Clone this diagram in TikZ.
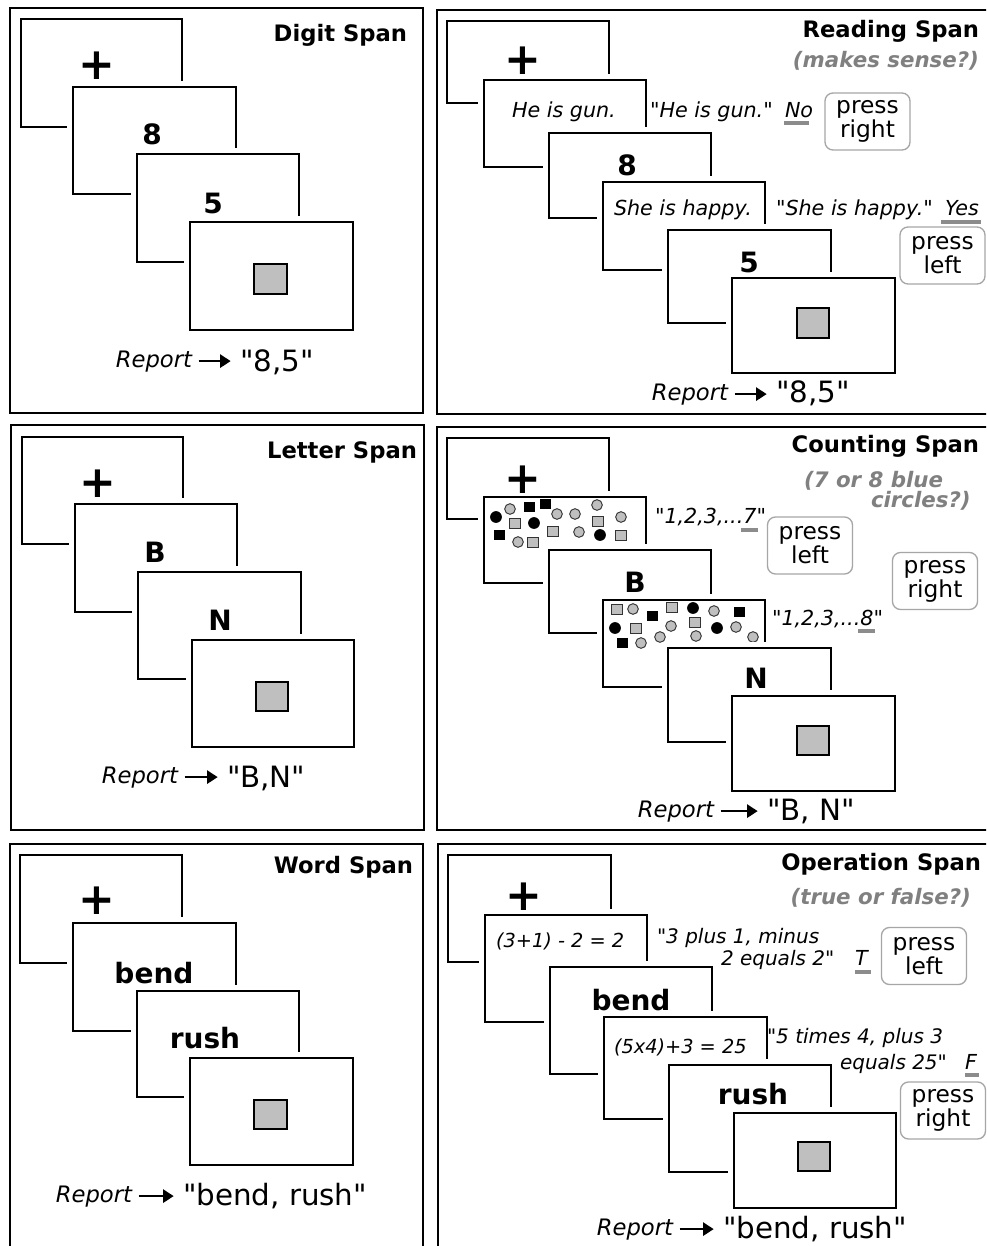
\documentclass[tikz,border=0pt]{standalone}
\usepackage{fontspec}
\newfontfamily\cfont{DejaVu Sans}[BoldFont={DejaVu Sans Bold},ItalicFont={DejaVu Sans Oblique},BoldItalicFont={DejaVu Sans Bold Oblique}]
\usetikzlibrary{arrows.meta,calc}
\newcommand\DotGC[2]{\draw[dotg] (#1,#2) circle[radius=4pt];}
\newcommand\DotBC[2]{\fill (#1,#2) circle[radius=4.4pt];}
\newcommand\DotGS[2]{\draw[dotg,shift={(#1,#2)}] (-5.5,-5) rectangle (5.5,5);}
\newcommand\DotBS[2]{\fill[shift={(#1,#2)}] (-5.5,-5) rectangle (5.5,5);}
\begin{document}
\begin{tikzpicture}[x=0.75pt,y=-0.75pt,
 every node/.style={inner sep=0pt,outer sep=0pt},
 panel/.style={draw=black,line width=2pt},
 screen/.style={draw=black,line width=2.2pt,fill=white,preaction={draw=white,line width=9pt}},
 graysq/.style={draw=black,line width=1.8pt,fill=gray!50},
 dotg/.style={draw=black!80,line width=0.7pt,fill=gray!50},
 ttl/.style={font=\cfont\fontsize{17}{20}\selectfont\bfseries,anchor=base east},
 sub/.style={font=\cfont\fontsize{16}{18}\selectfont\bfseries\itshape,text=black!50,anchor=base east},
 stim/.style={font=\cfont\fontsize{21}{24}\selectfont\bfseries,anchor=base},
 fix/.style={font=\cfont\fontsize{33}{34}\selectfont\bfseries},
 sent/.style={font=\cfont\fontsize{15.5}{18}\selectfont\itshape,anchor=base west},
 sent2/.style={font=\cfont\fontsize{15}{18}\selectfont\itshape,anchor=base west},
 eqn/.style={font=\cfont\fontsize{14.5}{17}\selectfont\itshape,anchor=base west},
 rep/.style={font=\cfont\fontsize{17}{20}\selectfont\itshape,anchor=base east},
 val/.style={font=\cfont\fontsize{22}{26}\selectfont,anchor=base west},
 reparrow/.style={line width=1.5pt,-{Triangle[length=8pt,width=10pt]},shorten <=5pt,shorten >=7pt},
 pressbox/.style={draw=black!35,line width=1pt,rounded corners=6pt,minimum width=63.75pt,minimum height=42.75pt,align=center,font=\cfont\fontsize{17.5}{14.5}\selectfont},
 ansbar/.style={draw=black!45,line width=3pt}
]
\useasboundingbox (0,0) rectangle (986,1246);
\fill[white] (0,0) rectangle (986,1246);
\begin{scope}
\clip (0,0) rectangle (986,1246);

% ---------------- Digit Span ----------------
\draw[panel] (10,8) rectangle (423,413);
\draw[screen] (21,19) rectangle (182,127);
\draw[screen] (73,87) rectangle (236,194);
\draw[screen] (137,154) rectangle (299,262);
\draw[screen] (190,222) rectangle (353,330);
\draw[graysq] (254,264) rectangle (287,294);
\node[fix] (dfix) at (97,66) {+};
\node[stim] (d8) at (152,144) {8};
\node[stim] (d5) at (213,213) {5};
\node[ttl] (dtitle) at (407,41) {Digit Span};
\node[rep] (drep) at (192,367) {Report};
\node[val] (dval) at (240,371) {"8,5"};
\draw[reparrow] (drep.east) -- (drep.east -| dval.west);

% ---------------- Letter Span ----------------
\draw[panel] (11,425) rectangle (424,830);
\draw[screen] (22,437) rectangle (183,544);
\draw[screen] (75,504) rectangle (237,612);
\draw[screen] (138,572) rectangle (301,679);
\draw[screen] (192,640) rectangle (354,747);
\draw[graysq] (256,682) rectangle (288,711);
\node[fix] (lfix) at (98,484) {+};
\node[stim] (lB) at (155,562) {B};
\node[stim] (lN) at (220,630) {N};
\node[ttl] (ltitle) at (417,458) {Letter Span};
\node[rep] (lrep) at (178,783) {Report};
\node[val] (lval) at (227,787) {"B,N"};
\draw[reparrow] (lrep.east) -- (lrep.east -| lval.west);

% ---------------- Word Span ----------------
\draw[panel] (10,844) rectangle (423,1260);
\draw[screen] (20,855) rectangle (182,963);
\draw[screen] (73,923) rectangle (236,1031);
\draw[screen] (137,991) rectangle (299,1097);
\draw[screen] (190,1058) rectangle (353,1165);
\draw[graysq] (254,1100) rectangle (287,1129);
\node[fix] (wfix) at (97,901) {+};
\node[stim] (wbend) at (154,983) {bend};
\node[stim] (wrush) at (205,1048) {rush};
\node[ttl] (wtitle) at (413,873) {Word Span};
\node[rep] (wrep) at (132,1202) {Report};
\node[val] (wval) at (183,1205) {"bend, rush"};
\draw[reparrow] (wrep.east) -- (wrep.east -| wval.west);

% ---------------- Reading Span ----------------
\draw[panel] (437,10) rectangle (1000,414);
\draw[screen] (447,21) rectangle (609,103);
\draw[screen] (484,80) rectangle (646,167);
\draw[screen] (549,133) rectangle (711,218);
\draw[screen] (603,182) rectangle (765,270);
\draw[screen] (668,230) rectangle (831,323);
\draw[screen] (732,278) rectangle (895,373);
\draw[graysq] (797,308) rectangle (829,338);
\node[fix] (rfix) at (523,61) {+};
\node[sent] (rs1) at (512,117) {He is gun.};
\node[sent] (rq1) at (650,117) {"He is gun."};
\node[sent] (rno) at (785,117) {No};
\draw[ansbar] ($(rno.base west)+(-1,6)$) -- ($(rno.base east)+(-4,6)$);
\node[pressbox] (rp1) at (867.5,121.5) {press\\right};
\node[stim] (r8) at (627,175) {8};
\node[sent] (rs2) at (614,215) {She is happy.};
\node[sent] (rq2) at (776,215) {"She is happy."};
\node[sent] (ryes) at (945,215) {Yes};
\draw[ansbar] ($(ryes.base west)+(-4,7)$) -- ($(ryes.base west)+(36,7)$);
\node[pressbox] (rp2) at (942.5,255.5) {press\\left};
\node[stim] (r5) at (749,272) {5};
\node[ttl] (rtitle) at (979,37) {Reading Span};
\node[sub] (rsub) at (979,67) {(makes sense?)};
\node[rep] (rrep) at (728,400) {Report};
\node[val] (rval) at (776,402) {"8,5"};
\draw[reparrow] (rrep.east) -- (rrep.east -| rval.west);

% ---------------- Counting Span ----------------
\draw[panel] (437,427) rectangle (1000,830);
\draw[screen] (447,438) rectangle (609,519);
\draw[screen] (484,497) rectangle (646,583);
\DotBC{496}{517}\DotGC{510}{509}\DotBS{529}{507}\DotBS{545}{504}\DotGC{597}{505}
\DotGS{515}{523}\DotBC{534}{523}\DotGC{557}{514}\DotGC{575}{514}\DotGS{598}{521}
\DotGC{621}{517}\DotBS{499}{535}\DotGC{518}{542}\DotGS{533}{542}\DotGS{553}{531}
\DotGC{579}{532}\DotBC{600}{535}\DotGS{621}{535}
\draw[screen] (549,550) rectangle (711,633);
\draw[screen] (603,600) rectangle (765,687);
\DotGS{617}{609}\DotGC{633}{609}\DotBS{652}{616}\DotGS{672}{607}\DotBC{693}{608}
\DotGC{714}{611}\DotBS{739}{612}\DotBC{615}{628}\DotGS{636}{628}\DotGC{671}{626}
\DotGC{660}{637}\DotGS{695}{622}\DotGC{696}{636}\DotBC{717}{628}\DotGC{736}{627}
\DotGC{753}{637}\DotBS{622}{643}\DotGC{641}{643}
\draw[screen] (668,648) rectangle (831,742);
\draw[screen] (732,696) rectangle (895,791);
\draw[graysq] (797,726) rectangle (829,755);
\node[fix] (cfix) at (523,480) {+};
\node[stim] (cB) at (635,592) {B};
\node[stim] (cN) at (756,688) {N};
\node[ttl] (ctitle) at (979,452) {Counting Span};
\node[sub,anchor=base west] (csub1) at (804,487) {(7 or 8 blue};
\node[sub,anchor=base west] (csub2) at (871,507) {circles?)};
\node[sent] (c7a) at (655,523) {"1,2,3,...};
\node[sent] (c7b) at (c7a.base east) {7};
\node[sent] (c7c) at (c7b.base east) {"};
\draw[ansbar] ($(c7b.base west)+(-2,7)$) -- ($(c7b.base east)+(1,7)$);
\node[pressbox] (cp1) at (810,545.5) {press\\left};
\node[pressbox] (cp2) at (935,581) {press\\right};
\node[sent] (c8a) at (772,625) {"1,2,3,...};
\node[sent] (c8b) at (c8a.base east) {8};
\node[sent] (c8c) at (c8b.base east) {"};
\draw[ansbar] ($(c8b.base west)+(-2,6)$) -- ($(c8b.base east)+(1,6)$);
\node[rep] (crep) at (714,817) {Report};
\node[val] (cval) at (767,820) {"B, N"};
\draw[reparrow] (crep.east) -- (crep.east -| cval.west);

% ---------------- Operation Span ----------------
\draw[panel] (438,844) rectangle (1000,1260);
\draw[screen] (448,855) rectangle (611,962);
\draw[screen] (485,915) rectangle (647,1022);
\draw[screen] (550,967) rectangle (712,1074);
\draw[screen] (604,1017) rectangle (767,1119);
\draw[screen] (669,1065) rectangle (831,1172);
\draw[screen] (734,1113) rectangle (896,1208);
\draw[graysq] (798,1142) rectangle (830,1171);
\node[fix] (ofix) at (524,897) {+};
\node[eqn] (oeq1) at (496,947) {(3+1) - 2 = 2};
\node[sent2] (oq1a) at (657,943) {"3 plus 1, minus};
\node[sent2] (oq1b) at (721,965) {2 equals 2"};
\node[sent] (oT) at (855,965) {T};
\draw[ansbar] ($(oT.base west)+(0,7)$) -- ($(oT.base west)+(16,7)$);
\node[pressbox] (op1) at (924,956) {press\\left};
\node[stim] (obend) at (631,1010) {bend};
\node[eqn] (oeq2) at (614,1053) {(5x4)+3 = 25};
\node[sent2] (oq2a) at (767,1043) {"5 times 4, plus 3};
\node[sent2] (oq2b) at (840,1069) {equals 25"};
\node[sent] (oF) at (965,1069) {F};
\draw[ansbar] ($(oF.base west)+(0,6)$) -- ($(oF.base west)+(14,6)$);
\node[pressbox] (op2) at (943,1110.5) {press\\right};
\node[stim] (orush) at (753,1104) {rush};
\node[ttl] (otitle) at (981,870) {Operation Span};
\node[sub] (osub) at (971,904) {(true or false?)};
\node[rep] (orep) at (673,1235) {Report};
\node[val] (oval) at (723,1238) {"bend, rush"};
\draw[reparrow] (orep.east) -- (orep.east -| oval.west);
\end{scope}
\end{tikzpicture}
\end{document}
